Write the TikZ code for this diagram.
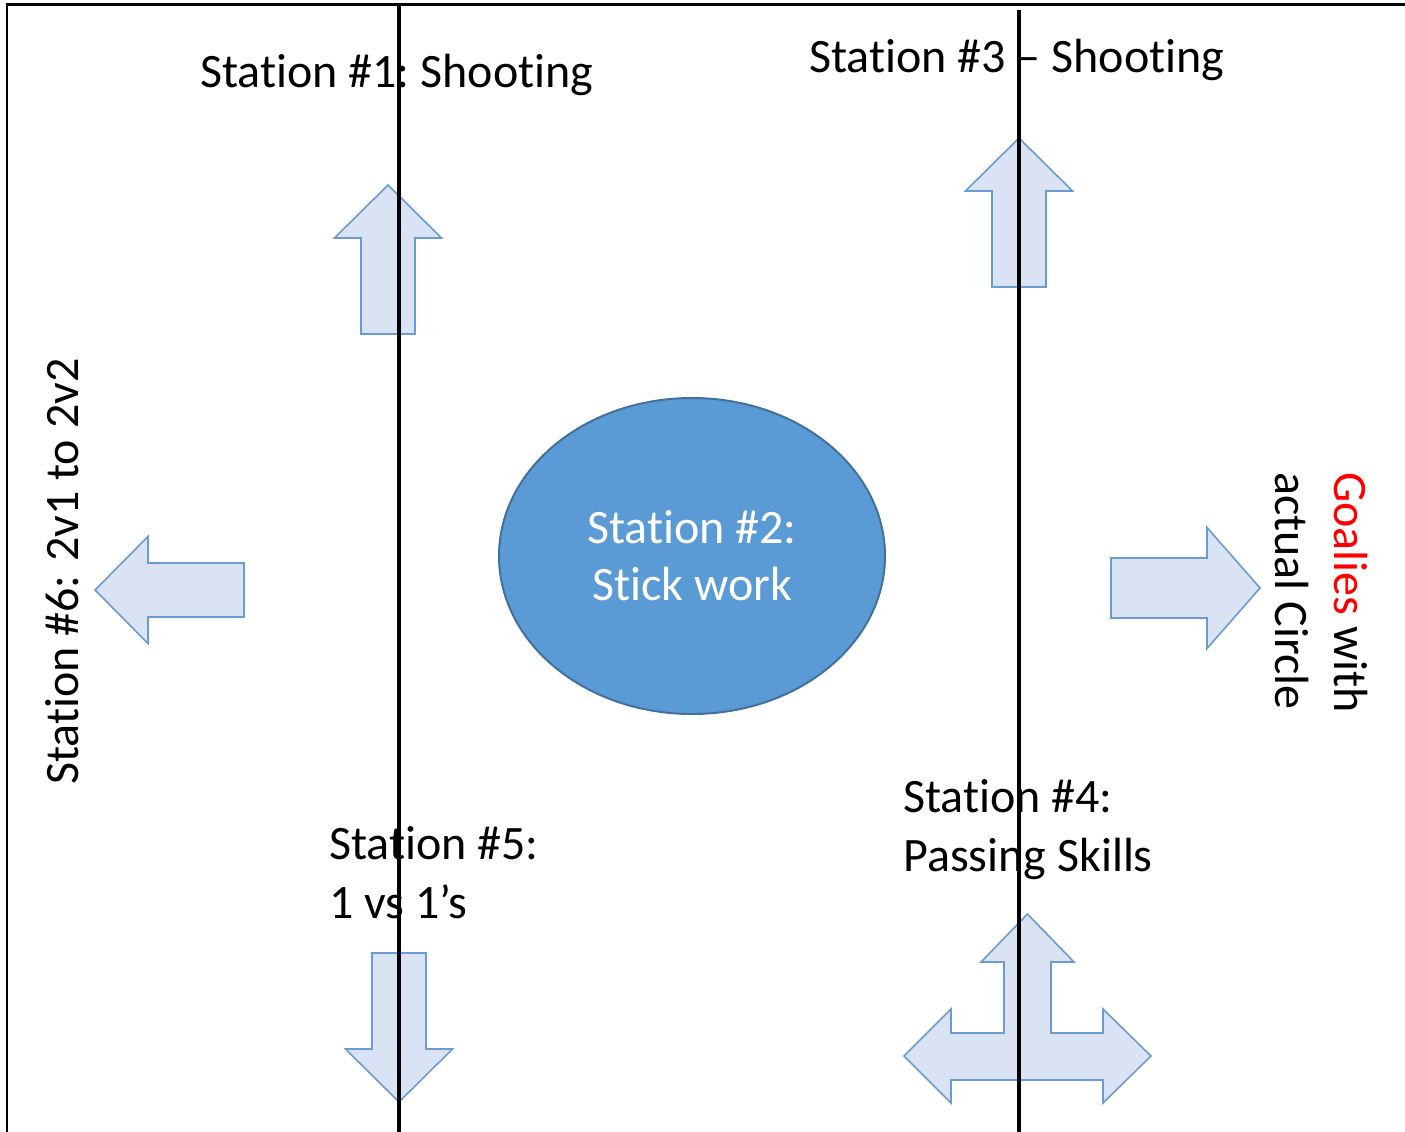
\documentclass[tikz,border=0pt]{standalone}
\usepackage{fontspec}
\setmainfont{Carlito}[Ligatures=NoCommon]
\usepackage{tikz}
\usetikzlibrary{positioning}
\usetikzlibrary{shapes.geometric}
\frenchspacing
\tikzstyle{field} = [x = 1pt, y = -1pt]
\definecolor{arrowFill}{HTML}{DAE3F3}
\definecolor{arrowLine}{HTML}{6A9BD3}
\definecolor{circleFill}{HTML}{5B9BD5}
\definecolor{circleLine}{HTML}{41719C}
\tikzstyle{arrowStyle} = [fill=arrowFill, draw=arrowLine, line width=1.6pt, line join=miter]
\tikzstyle{laneLine} = [color=black, line width=4pt]
\tikzstyle{frameLine} = [color=black, line width=2.6pt]
\tikzstyle{stationText} = [font=\fontsize{48}{59}\selectfont, inner sep=0pt, align=left]
\tikzstyle{circleStyle} = [ellipse, fill=circleFill, draw=circleLine, line width=2pt, minimum width=386pt, minimum height=316pt, inner sep=0pt, text=white, align=center, font=\fontsize{48}{57}\selectfont]
\newcommand{\stationWord}{Stat\kern0pt ion}
\newcommand{\stationArrow}[5]{\filldraw [arrowStyle, shift={(#1,#2)}, rotate=#3] (0,0) -- (-53,#4) -- (-53,#5) -- (-149,#5) -- (-149,-#5) -- (-53,-#5) -- (-53,-#4) -- cycle;}
\newcommand{\laneLine}[2]{\draw [laneLine] (#1, #2) -- (#1, 1132);}

\begin{document}
\begin{tikzpicture}[field]
  \useasboundingbox (0,0) rectangle (1405,1132);
  \draw [frameLine] (7,1132) -- (7,4.5) -- (1405,4.5);

  \stationArrow{388}{185}{90}{53.5}{27}
  \stationArrow{1019}{138}{90}{53.5}{27}
  \stationArrow{95}{590}{180}{53.5}{27}
  \stationArrow{1260}{588}{0}{60.5}{30}
  \stationArrow{399}{1102}{-90}{53.5}{27}
  \filldraw [arrowStyle] (1027.5,914) -- (1074,962) -- (1051,962) -- (1051,1033) -- (1103,1033) -- (1103,1009) -- (1151,1056) -- (1103,1103) -- (1103,1080) -- (951,1080) -- (951,1103) -- (904,1056) -- (951,1009) -- (951,1033) -- (1004,1033) -- (1004,962) -- (981,962) -- cycle;

  \node [circleStyle] (stickWork) at (692,556) {\stationWord{} \#2:\\Stick work};

  \node [stationText, anchor=base west] (shootingOne) at (200,87) {\stationWord{} \#1: Shooting};
  \node [stationText, anchor=base west] (shootingThree) at (809,73) {\stationWord{} \#3 -- Shooting};
  \node [stationText, rotate=90, anchor=base west] (twoOnTwo) at (78,785) {\stationWord{} \#6:\hspace{0.05em} 2v1 to 2v2};
  \node [stationText, rotate=-90, anchor=north west] (goalies) at (1368,472) {\textcolor{red}{Goalies} with\\actual Circle};
  \node [stationText, anchor=north west] (oneOnOne) at (329,826) {\stationWord{} \#5:\\1 vs 1’s};
  \node [stationText, anchor=north west] (passing) at (903,779) {\stationWord{} \#4:\\Passing Skills};

  \laneLine{399}{4}
  \laneLine{1019}{10}
\end{tikzpicture}
\end{document}
